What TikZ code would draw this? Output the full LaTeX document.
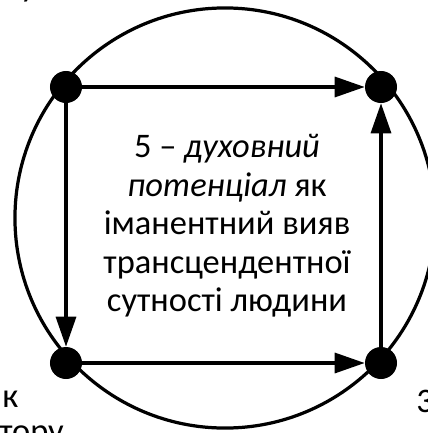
\documentclass[tikz,border=0pt]{standalone}
\usepackage{fontspec}
\setmainfont{Carlito}
\usetikzlibrary{arrows.meta}
\begin{document}
\begin{tikzpicture}[
		x=0.025cm, y=-0.025cm,
		every node/.style={font=\fontsize{24.5}{27.4}\selectfont},
		dot/.style={circle, fill, minimum size=0.8cm, inner sep=0},
		arr/.style={line width=2.3pt, -{Triangle[length=0.75cm, width=0.5cm]}},
		cut/.style={anchor=base west, inner sep=0},
	]
	\useasboundingbox (0,0) rectangle (427,433);
	\node[circle, draw, line width=2.3pt, minimum size=10.5cm, inner sep=0] (ring) at (225,218) {};
	\node[dot] (tl) at (66,87) {};
	\node[dot] (tr) at (381,87) {};
	\node[dot] (bl) at (66,363) {};
	\node[dot] (br) at (381,363) {};
	\draw[arr] (tl) -- (tr);
	\draw[arr] (tl) -- (bl);
	\draw[arr] (bl) -- (br);
	\draw[arr] (br) -- (tr);
	\node[align=center] (label) at (227,226) {5 – \textit{духовний}\\ \textit{потенціал} як\\ іманентний вияв\\ трансцендентної\\ сутності людини};
	% text cut off at the edges
	\node[cut] (topcut) at (20,-3) {у};
	\node[cut] (leftcut) at (2,407) {к};
	\node[cut] (bottomcut) at (-1,442) {тору};
	\node[cut] (rightcut) at (416,412) {3};
\end{tikzpicture}
\end{document}
